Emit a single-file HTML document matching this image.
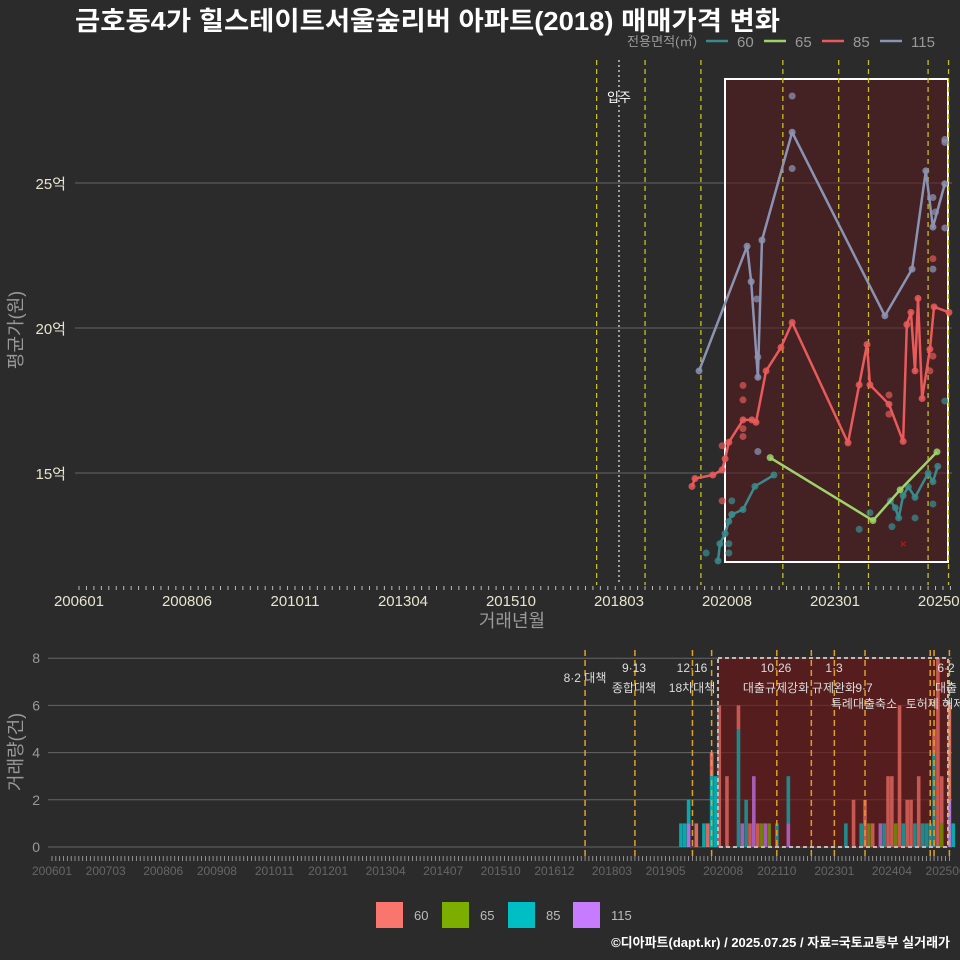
<!DOCTYPE html>
<html><head><meta charset="utf-8"><style>
html,body{margin:0;padding:0;background:#2b2b2c;}
svg{display:block;font-family:"Liberation Sans","Noto Sans CJK KR",sans-serif;}
</style></head><body>
<svg id="c" width="960" height="960" viewBox="0 0 960 960">
<rect x="0" y="0" width="960" height="960" fill="#2b2b2c"/>
<text x="75" y="30" font-size="26" font-weight="bold" fill="#fff" textLength="705" lengthAdjust="spacingAndGlyphs">금호동4가 힐스테이트서울숲리버 아파트(2018) 매매가격 변화</text>
<g id="legendTop">
<text x="627" y="46" font-size="13" fill="#999" textLength="70" lengthAdjust="spacingAndGlyphs">전용면적(㎡)</text>
</g>
<g id="topChart"></g>
<g id="botChart"></g>
<text x="950" y="947" font-size="13" font-weight="bold" fill="#fff" text-anchor="end">©디아파트(dapt.kr) / 2025.07.25 / 자료=국토교통부 실거래가</text>
</svg>
<script>
// ---- data (months since 2006-01, price in 억) ----
const s115M=[166.5,179.4,180.5,182.3,183.4,191.5,216.4,223.7,227.4,229.3,232.5];
const s115V=[18.52,22.82,21.6,18.3,23.03,26.75,20.42,22.03,25.42,23.48,24.97];
const s85M=[164.6,165.4,170.2,172.7,173.5,174.5,178.3,180.7,181.8,184.5,188.5,191.5,206.5,209.5,211.6,212.4,217.5,221.3,222.3,223.4,224.5,225.3,226.4,228.5,229.6,233.6];
const s85V=[14.54,14.81,14.93,15.11,15.49,16.06,16.83,16.83,16.75,18.52,19.33,20.19,16.04,18.04,19.43,18.04,17.37,16.09,20.12,20.54,18.52,21.02,17.57,19.27,20.73,20.54];
const s65M=[185.6,213.2,220.5,230.4];
const s65V=[15.53,13.36,14.42,15.73];
const s60aM=[171.6,172.1,173.5,174.5,175.3,178.3,181.5,186.6];
const s60aV=[11.97,12.56,12.91,13.33,13.57,13.74,14.54,14.93];
const s60bM=[217.9,219.2,220.1,221.3,222.7,224.5,228,229.3,230.6];
const s60bV=[14.04,13.8,13.45,14.22,14.52,14.16,14.99,14.7,15.23];
const d115M=[191.5,191.5,182,182.3,182.3,229.3,230,229.3,232.5,232.5,232.5];
const d115V=[28.0,25.5,21.0,19.0,15.74,24.5,24.0,22.03,26.5,26.4,23.45];
const d85M=[172.7,172.7,178.3,178.3,178.3,178.3,217.5,217.5,229.3,229.3,228.5];
const d85V=[14.04,15.94,18.02,17.52,16.53,16.26,17.69,17.03,22.39,19.03,18.52];
const d60M=[168.4,175.3,175.3,174.5,174.5,209.5,212.4,218.3,224.5,229.3,232.5];
const d60V=[12.24,14.04,13.57,12.56,12.24,13.06,13.63,13.15,13.45,13.93,17.48];
const crossM=[221.3], crossV=[12.56];
const topTickLabels=["200601","200806","201011","201304","201510","201803","202008","202301","202506"];
const topTickMonths=[0,29,58,87,116,145,174,203,232];
const yTicks=[15,20,25];
const policyMonths=[139,152,167,189,204,212,228,233.5];
const moveInMonth=145;
// bottom volume data
const barMonths=[164,165,166,168,170,171,172,173,174,176,179,180,181,182,183,184,185,186,187,189,192,207,209,211,212,213,214,216,217,218,219,220,221,222,223,224,225,226,227,228,229,230,231,232,234,235];
const n60 =[0,0,0,1,0,1,1,0,6,3,1,0,0,1,0,1,0,0,0,0,0,0,2,0,2,0,1,0,0,3,3,0,6,0,2,2,0,3,0,0,0,1,8,2,4,0];
const n65 =[0,0,0,0,0,0,0,0,0,0,0,0,0,0,0,0,1,0,1,0,0,0,0,0,0,1,0,0,0,0,0,1,0,0,0,0,0,0,0,0,0,0,0,1,0,0];
const n85 =[1,1,1,0,1,0,3,3,0,0,5,0,2,0,0,0,0,0,0,1,2,1,0,1,0,0,0,0,1,0,0,0,0,1,0,0,1,0,1,1,1,4,0,0,0,1];
const n115=[0,0,1,0,0,0,0,0,0,0,0,1,0,0,3,0,0,1,0,0,1,0,0,0,0,0,0,1,0,0,0,0,0,0,0,0,0,0,0,0,0,0,0,0,2,0];
const botTickLabels=["200601","200703","200806","200908","201011","201201","201304","201407","201510","201612","201803","201905","202008","202110","202301","202404","202506"];
const botYTicks=[0,2,4,6,8];

const NS="http://www.w3.org/2000/svg";
function mk(parent,tag,attrs,name,text){const e=document.createElementNS(NS,tag);for(const k in attrs)e.setAttribute(k,attrs[k]);


if(text!==undefined)e.textContent=text;parent.appendChild(e);return e;}
const topG=document.getElementById('topChart'), botG=document.getElementById('botChart'), lg=document.getElementById('legendTop');
const X=m=>79+3.724*m, Y=v=>473-(v-15)*29;
const C60="#3a8a8c",C65="#9ed36a",C85="#ea5a5a",C115="#8a93b3";
[["60",C60,706],["65",C65,764],["85",C85,822],["115",C115,880]].forEach(a=>{
 mk(lg,'line',{x1:a[2],y1:41,x2:a[2]+22,y2:41,stroke:a[1],'stroke-width':2.5},'legend-line-'+a[0]);
 mk(lg,'text',{x:a[2]+31,y:47,'font-size':15,fill:'#999'},'legend-label-'+a[0],a[0]);
});
yTicks.forEach(v=>{mk(topG,'line',{x1:75,x2:952,y1:Y(v),y2:Y(v),stroke:'#666','stroke-width':1},'y-grid-'+v);
 mk(topG,'text',{x:66,y:Y(v)+6,'font-size':15,fill:'#e8e4cc','text-anchor':'end'},'y-tick-label',v+'억');});
for(let m=0;m<=234;m+=2){mk(topG,'line',{x1:X(m),x2:X(m),y1:586,y2:590,stroke:'#bbb','stroke-width':1},'x-minor-tick');}
topTickLabels.forEach((l,i)=>mk(topG,'text',{x:X(topTickMonths[i]),y:606,'font-size':15,fill:'#e8e4cc','text-anchor':'middle'},'x-tick-label',l));
mk(topG,'text',{x:512,y:627,'font-size':18,fill:'#999','text-anchor':'middle'},'x-axis-title','거래년월');
mk(topG,'text',{x:22,y:330,'font-size':18,fill:'#999','text-anchor':'middle',transform:'rotate(-90 22 330)'},'y-axis-title','평균가(원)');
mk(topG,'rect',{x:725,y:79,width:223,height:483,fill:'#5a1a1c','fill-opacity':0.55,stroke:'#fff','stroke-width':2},'highlight-period');
policyMonths.forEach(m=>mk(topG,'line',{x1:X(m),x2:X(m),y1:60,y2:585,stroke:'#c8c020','stroke-width':1.3,'stroke-dasharray':'5,4'},'policy-line'));
mk(topG,'line',{x1:X(moveInMonth),x2:X(moveInMonth),y1:60,y2:585,stroke:'#ddd','stroke-width':1.3,'stroke-dasharray':'2,3'},'move-in-line');
mk(topG,'text',{x:X(moveInMonth),y:102,'font-size':13,fill:'#fff','text-anchor':'middle'},'move-in-label','입주');
function series(M,V,c,name){mk(topG,'polyline',{points:M.map((m,i)=>X(m)+','+Y(V[i])).join(' '),fill:'none',stroke:c,'stroke-width':2.5,'stroke-linejoin':'round'},name+'-line');
 M.forEach((m,i)=>mk(topG,'circle',{cx:X(m),cy:Y(V[i]),r:3.5,fill:c,'fill-opacity':0.85},name+'-point'));}
function dots(M,V,c,name){M.forEach((m,i)=>mk(topG,'circle',{cx:X(m),cy:Y(V[i]),r:3.5,fill:c,'fill-opacity':0.75},name+'-dot'));}
dots(d60M,d60V,C60,'series-60');dots(d85M,d85V,'#d95656','series-85');dots(d115M,d115V,C115,'series-115');
series(s60aM,s60aV,C60,'series-60');series(s60bM,s60bV,C60,'series-60');series(s65M,s65V,C65,'series-65');series(s85M,s85V,C85,'series-85');series(s115M,s115V,C115,'series-115');
crossM.forEach((m,i)=>mk(topG,'text',{x:X(m),y:Y(crossV[i])+4,'font-size':12,fill:'#e01010','text-anchor':'middle'},'cancelled-mark','×'));

// bottom chart
const BX=m=>52+3.835*m, BY=v=>847-v*23.6;
botYTicks.forEach(v=>{mk(botG,'line',{x1:48,x2:952,y1:BY(v),y2:BY(v),stroke:'#666','stroke-width':1},'bottom-y-grid');
 mk(botG,'text',{x:40,y:BY(v)+5,'font-size':14,fill:'#999','text-anchor':'end'},'bottom-y-tick-label',String(v));});
for(let m=0;m<=234;m+=1){mk(botG,'line',{x1:BX(m),x2:BX(m),y1:856,y2:861,stroke:'#aaa','stroke-width':0.8},'bottom-x-minor-tick');}
botTickLabels.forEach((l,i)=>{const yy=+l.slice(0,4),mm=+l.slice(4);const m=(yy-2006)*12+mm-1;
 mk(botG,'text',{x:BX(m),y:875,'font-size':12,fill:'#666','text-anchor':'middle'},'bottom-x-tick-label',l);});
mk(botG,'text',{x:22,y:752,'font-size':18,fill:'#999','text-anchor':'middle',transform:'rotate(-90 22 752)'},'bottom-y-axis-title','거래량(건)');
mk(botG,'rect',{x:718,y:658,width:230,height:189,fill:'#6a1818','fill-opacity':0.6},'bottom-highlight-fill');
barMonths.forEach((m,i)=>{let base=0;[[n115,'#c77cff','bar-115'],[n85,'#00bfc4','bar-85'],[n65,'#7cae00','bar-65'],[n60,'#f8766d','bar-60']].forEach(a=>{
 const v=a[0][i];if(v>0){mk(botG,'rect',{x:BX(m)-1.8,y:BY(base+v),width:3.6,height:v*23.6,fill:a[1],'fill-opacity':0.85},a[2]);base+=v;}});});
mk(botG,'rect',{x:718,y:658,width:230,height:189,fill:'#6a1818','fill-opacity':0.2,stroke:'#bbb','stroke-width':2,'stroke-dasharray':'4,3'},'bottom-highlight-period');
[139,152,167,172,189,198,204,212,229,230,234].forEach(m=>mk(botG,'line',{x1:BX(m),x2:BX(m),y1:650,y2:858,stroke:'#e0a020','stroke-width':1.5,'stroke-dasharray':'6,4'},'bottom-policy-line'));
const ann=[["8·2 대책",585,682],["9·13",634,672],["종합대책",634,692],["12·16",692,672],["18차대책",692,692],["10·26",776,672],["대출규제강화",776,692],["1·3",834,672],["규제완화",834,692],["9·7",864,692],["특례대출축소",864,708],["토허제 해제",935,708],["6·2",946,672],["대출",946,692]];
ann.forEach(a=>mk(botG,'text',{x:a[1],y:a[2],'font-size':12,fill:'#ddd','text-anchor':'middle'},'policy-annotation',a[0]));
[["60",'#f8766d',376],["65",'#7cae00',442],["85",'#00bfc4',508],["115",'#c77cff',573]].forEach(a=>{
 mk(botG,'rect',{x:a[2],y:902,width:27,height:26,fill:a[1]},'bottom-legend-key-'+a[0]);
 mk(botG,'text',{x:a[2]+38,y:920,'font-size':13,fill:'#bbb'},'bottom-legend-label-'+a[0],a[0]);});
</script>
</body></html>
